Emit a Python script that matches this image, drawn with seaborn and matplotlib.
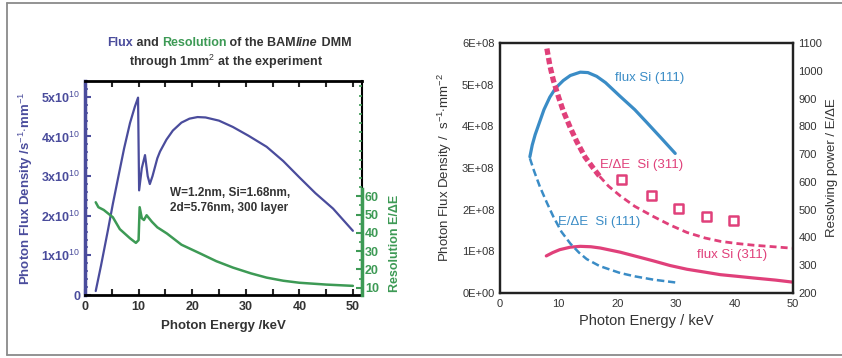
import numpy as np
import pandas as pd
import matplotlib
matplotlib.use("Agg")
from matplotlib import pyplot as plt
from matplotlib.lines import Line2D
from matplotlib.ticker import MultipleLocator, FuncFormatter
import seaborn as sns

# ---- left panel: BAMline DMM ----
dmm_energy = [2, 3, 4.3, 5.2, 6.2, 7.3, 8.4, 9.3, 9.9, 10.1, 10.6, 11.2, 11.7, 12.1, 12.6, 13, 13.5,
              14, 15.2, 16.4, 18, 19.5, 21, 22.5, 25, 27.6, 30.5, 33.9, 37, 40, 43, 46.3, 50]
dmm_flux = [0.1, 0.75, 1.65, 2.3, 2.97, 3.7, 4.34, 4.75, 4.98, 2.64, 3.2, 3.53, 3.0, 2.8, 3.0, 3.2, 3.45,
            3.62, 3.92, 4.15, 4.35, 4.45, 4.49, 4.48, 4.4, 4.24, 4.02, 3.74, 3.38, 2.97, 2.57, 2.18, 1.62]  # x1e10
res_energy = [2, 2.5, 3.5, 5.2, 6.5, 8.4, 9.5, 10.0, 10.2, 10.6, 11.0, 11.5, 12.5, 13.5, 15.3,
              18, 21.5, 24.5, 27.6, 31, 33.9, 37, 40, 45, 50]
res_value = [56.7, 54, 52.5, 48.5, 42, 37, 34.5, 36, 54, 48, 47, 49.6, 46, 43, 39.6,
             33.5, 28.7, 24.5, 21, 17.8, 15.5, 13.8, 12.7, 11.7, 11]

# ---- right panel: Si(111) / Si(311) DCM ----
f111_energy = [5.1, 5.5, 6, 6.5, 7.5, 8.5, 9.5, 10.8, 12, 13.7, 15, 16.5, 18, 20.5, 23, 25, 27.5, 29.9]
f111_flux = [3.27, 3.55, 3.8, 4.0, 4.4, 4.7, 4.92, 5.1, 5.22, 5.3, 5.29, 5.2, 5.05, 4.72, 4.4, 4.1,
             3.72, 3.35]  # x1e8
r111_energy = [5.1, 5.8, 6.8, 8, 9.1, 10.5, 12, 13.5, 14.8, 17, 20.5, 23, 26.2, 29.9]
r111_value = [685, 640, 583, 525, 475, 420, 378, 345, 322, 297, 272, 260, 248, 238]
r311_energy = [8, 8.5, 9.1, 10, 10.8, 12, 13.1, 14.5, 15.9, 17, 18.5, 20.5, 23, 26.2, 29, 31.9,
               35, 37.6, 40.5, 43.3, 47, 50]
r311_value = [1080, 1020, 966, 905, 855, 795, 745, 690, 650, 620, 585, 550, 512, 475, 445, 418,
              398, 386, 378, 372, 366, 361]
r311_meas_energy = [20.7, 25.8, 30.5, 35.3, 39.9]
r311_meas_value = [609, 551, 503, 475, 461]
f311_energy = [7.9, 9, 10.2, 12, 13.7, 15.5, 17.1, 20.5, 23.5, 26.2, 29, 31.9, 35, 37.6, 40.5, 43.3,
               47, 50]
f311_flux = [0.89, 0.97, 1.04, 1.1, 1.12, 1.11, 1.08, 0.98, 0.87, 0.77, 0.66, 0.57, 0.5, 0.44, 0.4,
             0.36, 0.31, 0.26]  # x1e8

sns.set_style("white")
plt.rcParams['font.family'] = ['Liberation Sans', 'DejaVu Sans']
plt.rcParams['mathtext.fontset'] = 'custom'
plt.rcParams['mathtext.rm'] = 'Liberation Sans'

NAVY = '#4a4c9c'
GREEN = '#3d9a55'
BLUE = '#3a8cc6'
PINK = '#e0407a'
DARK = '#333333'

fig = plt.figure(figsize=(8.42, 3.58), dpi=100)

# outer frame
for xs, ys in [([7/842, 1], [1-3/358, 1-3/358]), ([7/842, 7/842], [1-3/358, 1-355/358]),
               ([7/842, 1], [1-355/358, 1-355/358])]:
    fig.add_artist(Line2D(xs, ys, color='#8a8a8a', lw=1.3, transform=fig.transFigure))

# ================= left panel =================
ax1 = fig.add_axes([85/842, 1-295/358, 277/842, 214/358])
df_flux = pd.DataFrame({'E': dmm_energy, 'flux': np.array(dmm_flux) * 1e10})
sns.lineplot(data=df_flux, x='E', y='flux', ax=ax1, color=NAVY, lw=1.6, sort=False, estimator=None)
ax1.set_xlim(0, 51.7)
ax1.set_ylim(0, 5.4e10)
ax1.xaxis.set_major_locator(MultipleLocator(10))
ax1.xaxis.set_minor_locator(MultipleLocator(5))
ax1.yaxis.set_major_locator(MultipleLocator(1e10))
ax1.yaxis.set_minor_locator(MultipleLocator(0.2e10))
ax1.yaxis.set_major_formatter(FuncFormatter(
    lambda v, p: '0' if v == 0 else f'{int(round(v/1e10))}x10$^{{10}}$'))
ax1.tick_params(axis='x', which='both', direction='in', top=True, bottom=True, length=4, width=1.5,
                labelsize=9, labelcolor=DARK, pad=4)
ax1.tick_params(axis='y', which='major', direction='in', length=4, width=1.5, colors=NAVY,
                labelsize=9, labelcolor=NAVY)
ax1.tick_params(axis='y', which='minor', direction='in', length=2.5, width=1.1, colors=NAVY)
for lab in ax1.get_xticklabels() + ax1.get_yticklabels():
    lab.set_fontweight('bold')
for s in ['top', 'bottom']:
    ax1.spines[s].set_linewidth(2)
    ax1.spines[s].set_color('black')
ax1.spines['left'].set_linewidth(2.5)
ax1.spines['left'].set_color(NAVY)
ax1.spines['right'].set_linewidth(1.5)
ax1.spines['right'].set_color('black')
ax1.set_xlabel('Photon Energy /keV', fontsize=9.5, fontweight='bold', color=DARK, labelpad=5)
ax1.set_ylabel('Photon Flux Density /s$^{-1}$$\\cdot$mm$^{-1}$', fontsize=9.5, fontweight='bold',
               color=NAVY, labelpad=4)
ax1.text(15.8, 2.72e10, 'W=1.2nm, Si=1.68nm,\n2d=5.76nm, 300 layer', fontsize=8.5,
         fontweight='bold', color=DARK, va='top', ha='left', linespacing=1.3)

ax1b = ax1.twinx()
df_res = pd.DataFrame({'E': res_energy, 'res': res_value})
sns.lineplot(data=df_res, x='E', y='res', ax=ax1b, color=GREEN, lw=1.8, sort=False, estimator=None)
ax1b.set_ylim(6, 123)
ax1b.set_yticks([10, 20, 30, 40, 50, 60])
ax1b.yaxis.set_minor_locator(MultipleLocator(5))
ax1b.tick_params(axis='y', which='major', direction='in', length=4, width=1.5, colors=GREEN,
                 labelsize=9, labelcolor=GREEN, pad=2)
ax1b.tick_params(axis='y', which='minor', direction='in', length=2.5, width=1.2, colors=GREEN)
for lab in ax1b.get_yticklabels():
    lab.set_fontweight('bold')
for s in ['top', 'bottom', 'left']:
    ax1b.spines[s].set_visible(False)
ax1b.spines['right'].set_bounds(6, 64)
ax1b.spines['right'].set_color(GREEN)
ax1b.spines['right'].set_linewidth(2.5)
ax1b.set_ylabel('')
fig.text(395/842, 1-243/358, 'Resolution E/\u0394E', rotation=90, color=GREEN, fontsize=9,
         fontweight='bold', ha='center', va='center')

# two-colour title
t1 = fig.text(107/842, 1-43/358, 'Flux', color=NAVY, fontsize=9, fontweight='bold', va='center')
parts = [(' and ', DARK, 'normal'), ('Resolution', GREEN, 'normal'), (' of the BAM', DARK, 'normal'),
         ('line', DARK, 'italic'), (' DMM', DARK, 'normal')]
prev = t1
for txt, col, sty in parts:
    prev = plt.annotate(txt, xy=(1, 0.5), xycoords=prev, va='center', ha='left', color=col,
                        fontsize=9, fontweight='bold', fontstyle=sty, annotation_clip=False)
fig.text(226/842, 1-62/358, 'through 1mm$^{2}$ at the experiment', color=DARK, fontsize=9,
         fontweight='bold', ha='center', va='center')

# ================= right panel =================
ax2 = fig.add_axes([500/842, 1-293/358, 293/842, 250/358])
df_f111 = pd.DataFrame({'E': f111_energy, 'flux': np.array(f111_flux) * 1e8})
df_f311 = pd.DataFrame({'E': f311_energy, 'flux': np.array(f311_flux) * 1e8})
sns.lineplot(data=df_f111, x='E', y='flux', ax=ax2, color=BLUE, lw=2.3, sort=False, estimator=None)
sns.lineplot(data=df_f311, x='E', y='flux', ax=ax2, color=PINK, lw=2.3, sort=False, estimator=None)
ax2.set_xlim(0, 50)
ax2.set_ylim(0, 6e8)
ax2.xaxis.set_major_locator(MultipleLocator(10))
ax2.yaxis.set_major_locator(MultipleLocator(1e8))
ax2.yaxis.set_major_formatter(FuncFormatter(lambda v, p: f'{int(round(v/1e8))}E+0{0 if v == 0 else 8}'))
ax2.tick_params(axis='both', length=0, labelsize=8, labelcolor=DARK, pad=4)
for s in ax2.spines.values():
    s.set_linewidth(1.6)
    s.set_color('#222222')
ax2.set_xlabel('Photon Energy / keV', fontsize=10.5, color=DARK, labelpad=4)
ax2.set_ylabel('Photon Flux Density /  s$^{-1}$$\\cdot$mm$^{-2}$', fontsize=9.5, color=DARK, labelpad=6)

ax2b = ax2.twinx()
df_r111 = pd.DataFrame({'E': r111_energy, 'res': r111_value})
df_r311 = pd.DataFrame({'E': r311_energy, 'res': r311_value})
thick = df_r311[df_r311['E'] <= 17]
thin = df_r311[df_r311['E'] >= 17]
sns.lineplot(data=df_r111, x='E', y='res', ax=ax2b, color=BLUE, lw=1.8, sort=False, estimator=None,
             linestyle=(0, (3, 1.5)))
sns.lineplot(data=thick, x='E', y='res', ax=ax2b, color=PINK, lw=3.8, sort=False, estimator=None,
             linestyle=(0, (1.2, 0.6)))
sns.lineplot(data=thin, x='E', y='res', ax=ax2b, color=PINK, lw=2.0, sort=False, estimator=None,
             linestyle=(0, (2.5, 1.5)))
sns.scatterplot(x=r311_meas_energy, y=r311_meas_value, ax=ax2b, marker='s', s=40,
                facecolor='none', edgecolor=PINK, linewidth=1.8)
ax2b.set_ylim(200, 1100)
ax2b.yaxis.set_major_locator(MultipleLocator(100))
ax2b.tick_params(axis='y', length=0, labelsize=8, labelcolor=DARK, pad=4)
ax2b.set_ylabel('Resolving power / E/\u0394E', fontsize=9.5, color=DARK, labelpad=2)
for s in ax2b.spines.values():
    s.set_linewidth(1.6)
    s.set_color('#222222')

ax2.text(19.6, 5.15e8, 'flux Si (111)', color=BLUE, fontsize=9.5, va='center', ha='left')
ax2.text(17.1, 3.07e8, 'E/\u0394E  Si (311)', color=PINK, fontsize=9.5, va='center', ha='left')
ax2.text(9.9, 1.70e8, 'E/\u0394E  Si (111)', color=BLUE, fontsize=9.5, va='center', ha='left')
ax2.text(33.6, 0.91e8, 'flux Si (311)', color=PINK, fontsize=9.5, va='center', ha='left')

fig.savefig('out.png', dpi=100)
